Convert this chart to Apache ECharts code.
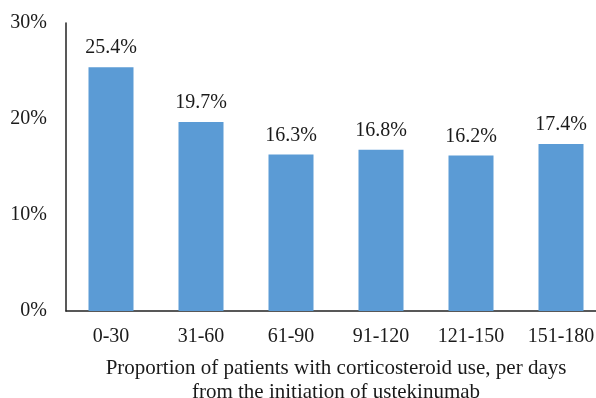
<!DOCTYPE html>
<html><head><meta charset="utf-8">
<script src="https://cdn.jsdelivr.net/npm/echarts@6/dist/echarts.min.js"></script>
<style>html,body{margin:0;padding:0;background:#fff}#c{width:596px;height:398px}</style>
</head><body><div id="c"></div>
<script>
const categories = ['0-30','31-60','61-90','91-120','121-150','151-180'];
const values = [25.4, 19.7, 16.3, 16.8, 16.2, 17.4];
const yTicks = [0, 10, 20, 30];
const xTitle = 'Proportion of patients with corticosteroid use, per days\nfrom the initiation of ustekinumab';
const font = '"Liberation Serif", "Times New Roman", serif';
const chart = echarts.init(document.getElementById('c'));
chart.setOption({
  animation: false,
  grid: {left: 66, top: 23, width: 540, height: 288, containLabel: false, outerBoundsMode: 'none'},
  xAxis: {
    type: 'category', data: categories,
    axisLine: {lineStyle: {color: '#222', width: 1.5}},
    axisTick: {show: false},
    axisLabel: {color: '#1a1a1a', fontFamily: font, fontSize: 20, margin: 16},
    name: xTitle, nameLocation: 'middle', nameGap: 45,
    nameTextStyle: {color: '#1a1a1a', fontFamily: font, fontSize: 21, lineHeight: 24}
  },
  yAxis: {
    type: 'value', min: yTicks[0], max: yTicks[yTicks.length-1], interval: 10,
    axisLine: {show: true, lineStyle: {color: '#222', width: 1.5}},
    axisTick: {show: false},
    splitLine: {show: false},
    axisLabel: {color: '#1a1a1a', fontFamily: font, fontSize: 20, margin: 19, formatter: '{value}%'}
  },
  series: [{
    type: 'bar', data: values, barWidth: '50%',
    itemStyle: {color: '#5B9BD5'},
    label: {show: true, position: 'top', distance: 9, color: '#1a1a1a', fontFamily: font, fontSize: 20,
      formatter: p => p.value.toFixed(1) + '%'}
  }]
});
</script></body></html>
